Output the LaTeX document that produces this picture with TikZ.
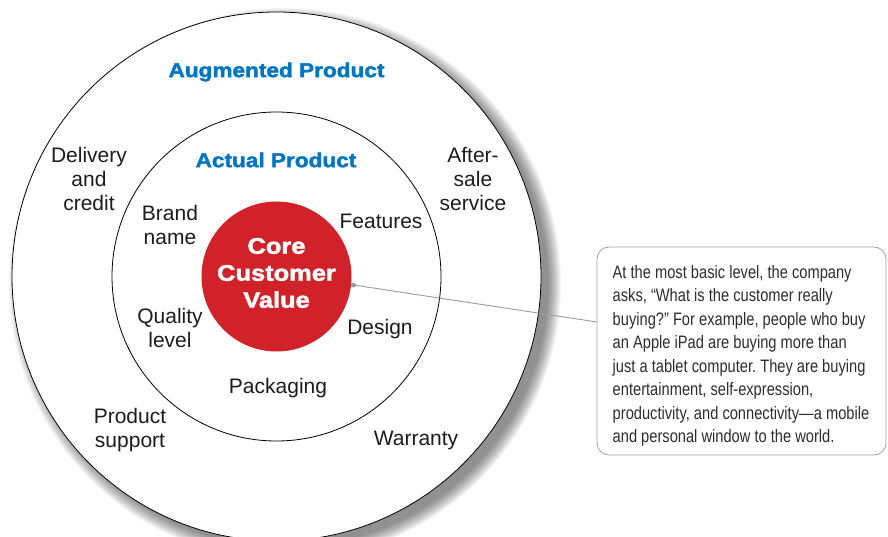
\documentclass[tikz,border=0pt]{standalone}
\usepackage{fontspec}
\setmainfont{Liberation Sans}
\newfontfamily\heavy[FakeStretch=1.13,FakeBold=2]{Liberation Sans}
\newfontfamily\narrow[FakeStretch=0.815]{Liberation Sans}
\definecolor{augblue}{RGB}{0,118,192}
\definecolor{corered}{RGB}{209,34,41}
\definecolor{labeltext}{RGB}{30,27,28}
\definecolor{notetext}{RGB}{45,45,45}
\definecolor{linegray}{RGB}{155,155,155}
\definecolor{boxgray}{RGB}{160,160,160}
\frenchspacing
\begin{document}
\begin{tikzpicture}[x=1pt,y=-1pt,
  lbl/.style={font=\fontsize{21}{24}\selectfont, text=labeltext, align=center, inner sep=0pt},
  head/.style={font=\heavy\bfseries\fontsize{20}{24}\selectfont, text=augblue, inner sep=0pt},
  ring/.style={circle, draw=black, line width=0.8pt, fill=white, inner sep=0pt}]
\useasboundingbox (0,0) rectangle (888,537);
% soft shadow of the outer ring
\foreach \i in {0,...,13}
  \fill[black, opacity=0.04] (285,284) circle[radius={(276-\i)*1pt}];
% rings
\node[ring, minimum size=529pt] (outer) at (276.5,276.5) {};
\node[ring, minimum size=329pt] (inner) at (276.5,276.5) {};
\node[circle, fill=corered, inner sep=0pt, minimum size=150pt] (core) at (276.5,276.5) {};
\node[font=\heavy\bfseries\fontsize{22.5}{27}\selectfont, text=white, align=center, inner sep=0pt] (coretext) at (276.5,273) {Core\\Customer\\Value};
% headings
\node[head] (aug) at (276.5,72) {Augmented Product};
\node[head] (act) at (276,160) {Actual Product};
% labels
\node[lbl] (delivery) at (89,179) {Delivery\\and\\credit};
\node[lbl] (after) at (473,179) {After-\\sale\\service};
\node[lbl] (brand) at (170,225) {Brand\\name};
\node[lbl] (features) at (381,221) {Features};
\node[lbl] (quality) at (170,327.5) {Quality\\level};
\node[lbl] (design) at (380,329) {Design};
\node[lbl] (packaging) at (278,388) {Packaging};
\node[lbl] (support) at (130,430.5) {Product\\support};
\node[lbl] (warranty) at (416,440) {Warranty};
% callout
\node[draw=boxgray, line width=0.8pt, rounded corners=12pt, fill=white,
      minimum width=289pt, minimum height=208pt, inner sep=0pt] (callout) at (741.5,351) {};
\node[anchor=north west, align=left, inner sep=0pt, text=notetext,
      font=\narrow\fontsize{18}{23.5}\selectfont] (note) at (612.5,265)
  {At the most basic level, the company\\
   asks, “What is the customer really\\
   buying?” For example, people who buy\\
   an Apple iPad are buying more than\\
   just a tablet computer. They are buying\\
   entertainment, self-expression,\\
   productivity, and connectivity—a mobile\\
   and personal window to the world.};
% connector
\node[circle, fill=linegray, inner sep=0pt, minimum size=5pt] (dot) at (353.5,285) {};
\coordinate (tip) at (597,322);
\draw[linegray, line width=0.9pt] (dot.center) -- (tip);
\end{tikzpicture}
\end{document}
